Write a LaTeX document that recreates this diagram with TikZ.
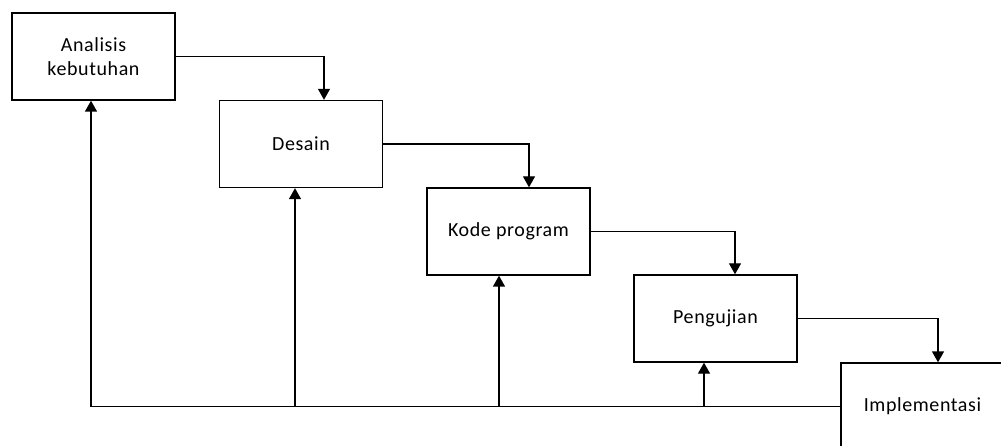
\documentclass[tikz,border=0pt]{standalone}
\usepackage{fontspec}
\setmainfont{Carlito}[LetterSpace=3]
\usetikzlibrary{arrows.meta}
\tikzset{
  phase/.style={draw, line width=1.4pt, minimum width=163pt, minimum height=87pt,
    align=center, font=\fontsize{20}{24}\selectfont},
  flow/.style={line width=1.4pt, -{Triangle[width=12pt,length=11pt]}}
}
\begin{document}
\begin{tikzpicture}[x=1pt, y=-1pt]
            \useasboundingbox (0,0) rectangle (1001,446);
            % tahapan
            \foreach \n/\t/\x/\y in {
                ana/{Analisis\\kebutuhan}/93.5/56.5, des/Desain/301/144,
                kode/Kode program/508.5/231.5, uji/Pengujian/715.5/318.5,
                imp/Implementasi/922.5/406.5
            } {
                \node[phase] (\n) at (\x,\y) {\t};
            }
            % alur turun
            \foreach \a/\b/\dx in {ana/des/23, des/kode/20.5, kode/uji/19.5, uji/imp/15.5} {
                \draw[flow] (\a.east) -| ([xshift=\dx pt]\b.north);
            }
            % umpan balik
            \draw[flow] (imp.west) -| ([xshift=-2.5pt]ana.south);
            \foreach \b/\dx in {des/-6, kode/-9.5, uji/-11.5} {
                \coordinate (f\b) at ([xshift=\dx pt]\b.south);
                \draw[flow] (f\b |- imp.west) -- (f\b);
            }
        \end{tikzpicture}
\end{document}
